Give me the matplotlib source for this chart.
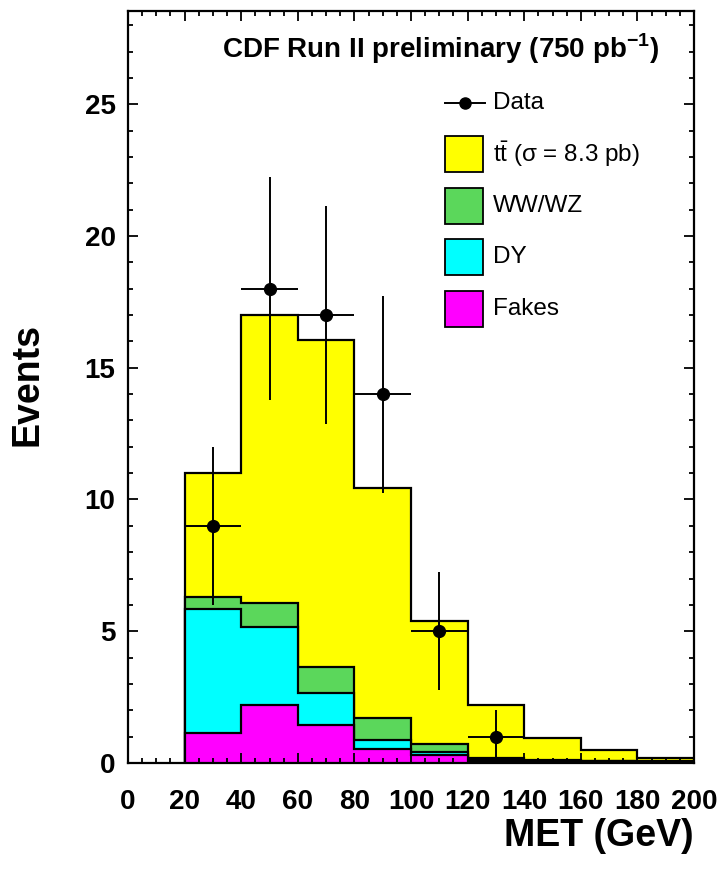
import numpy as np
import matplotlib
matplotlib.use("Agg")
import matplotlib.pyplot as plt
from matplotlib.patches import Rectangle
from matplotlib.lines import Line2D
from matplotlib.ticker import MultipleLocator

plt.rcParams['font.family'] = ['Liberation Sans', 'DejaVu Sans']
plt.rcParams['mathtext.fontset'] = 'custom'
plt.rcParams['mathtext.rm'] = 'Liberation Sans'
plt.rcParams['mathtext.bf'] = 'Liberation Sans:bold'

# MET bins (GeV)
bin_edges = [20, 40, 60, 80, 100, 120, 140, 160, 180, 200]

# per-sample expectations (stacked bottom -> top)
fakes = [1.15, 2.20, 1.46, 0.53, 0.29, 0.05, 0.05, 0.05, 0.03]
dy    = [4.70, 2.95, 1.19, 0.33, 0.13, 0.05, 0.04, 0.02, 0.02]
wwwz  = [0.45, 0.94, 1.00, 0.84, 0.31, 0.10, 0.03, 0.02, 0.02]
ttbar = [4.70, 10.91, 12.40, 8.75, 4.64, 1.99, 0.84, 0.39, 0.13]

# data
data_x = [30, 50, 70, 90, 110, 130]
data_y = [9, 18, 17, 14, 5, 1]
data_err = [3.0, 4.24, 4.12, 3.74, 2.24, 1.0]

fig = plt.figure(figsize=(7.21, 8.85), dpi=100)
ax = fig.add_axes([128/721, 1 - 763/885, 566/721, 752.3/885])

samples = [(ttbar, '#ffff00', r'$\mathrm{t\bar{t}}$ (σ = 8.3 pb)'),
           (wwwz, '#5bd75b', 'WW/WZ'),
           (dy, '#00ffff', 'DY'),
           (fakes, '#ff00ff', 'Fakes')]

# draw cumulative stacks, tallest first
comps = [np.array(fakes), np.array(dy), np.array(wwwz), np.array(ttbar)]
cum = np.cumsum(comps, axis=0)
cols = ['#ff00ff', '#00ffff', '#5bd75b', '#ffff00']
for i in range(3, -1, -1):
    ax.stairs(cum[i], bin_edges, baseline=0, fill=True,
              facecolor=cols[i], edgecolor='black', linewidth=1.6)

ax.errorbar(data_x, data_y, yerr=data_err, xerr=10, fmt='o', color='black',
            markersize=8.5, elinewidth=1.4, capsize=0, zorder=5)

ax.set_xlim(0, 200)
ax.set_ylim(0, 28.55)
ax.xaxis.set_major_locator(MultipleLocator(20))
ax.xaxis.set_minor_locator(MultipleLocator(5))
ax.yaxis.set_major_locator(MultipleLocator(5))
ax.yaxis.set_minor_locator(MultipleLocator(1))
ax.tick_params(which='both', direction='in', top=True, right=True, width=1.3)
ax.tick_params(which='major', length=7)
ax.tick_params(which='minor', length=3.5)
ax.tick_params(axis='x', pad=19)
ax.tick_params(axis='y', pad=9)
for lab in ax.get_xticklabels() + ax.get_yticklabels():
    lab.set_fontsize(20)
    lab.set_fontweight('bold')
for s in ax.spines.values():
    s.set_linewidth(1.6)

fig.text(28/721, 1 - 385/885, 'Events', rotation=90, ha='center', va='center',
         fontsize=27, fontweight='bold')
fig.text(694/721, 1 - 836/885, 'MET (GeV)', ha='right', va='center',
         fontsize=27, fontweight='bold')
fig.text(222/721, 1 - 58/885, r'CDF Run II preliminary (750 pb$^{\mathbf{-1}}$)',
         ha='left', va='baseline', fontsize=20, fontweight='bold')

# legend
def fx(p):
    return p / 721

def fy(p):
    return 1 - p / 885

fig.add_artist(Line2D([fx(445), fx(485)], [fy(103), fy(103)], color='black',
                      lw=1.4, transform=fig.transFigure))
fig.add_artist(Line2D([fx(465)], [fy(103)], color='black', marker='o',
                      markersize=8, transform=fig.transFigure))
fig.text(fx(493), fy(103), 'Data', ha='left', va='center', fontsize=17.5)
for k, (vals, c, lab) in enumerate(samples):
    top = 136 + 51.7 * k
    fig.add_artist(Rectangle((fx(445), fy(top + 36)), 38/721, 36/885,
                             facecolor=c, edgecolor='black', lw=1.3,
                             transform=fig.transFigure))
    fig.text(fx(493), fy(top + 18), lab, ha='left', va='center', fontsize=17.5)

fig.savefig('out.png', dpi=100)
